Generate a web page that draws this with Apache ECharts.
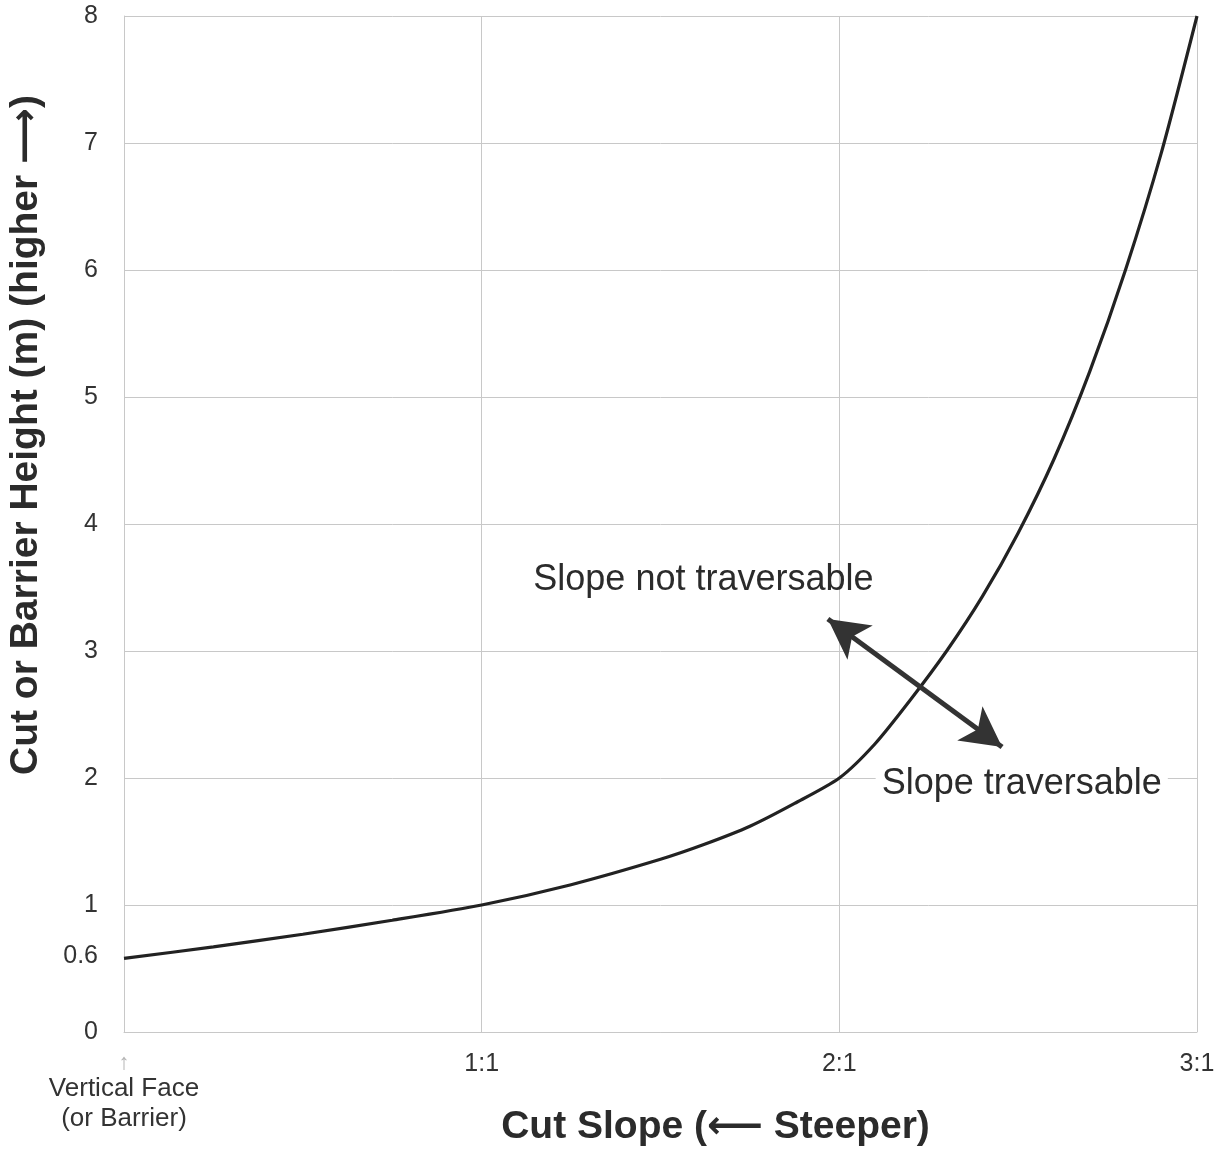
<!DOCTYPE html>
<html>
<head>
<meta charset="utf-8">
<script src="https://cdn.jsdelivr.net/npm/echarts@6/dist/echarts.min.js"></script>
<style>
html,body{margin:0;padding:0;background:#fff;}
#chart{width:1231px;height:1149px;}
</style>
</head>
<body>
<div id="chart"></div>
<script>
// Data
const slopeRatio = [0, 0.25, 0.5, 0.75, 1, 1.25, 1.5, 1.625, 1.75, 1.875, 2, 2.1, 2.2, 2.3, 2.4, 2.5, 2.6, 2.7, 2.8, 2.9, 3];
const barrierHeight = [0.58, 0.67, 0.77, 0.88, 1.0, 1.16, 1.36, 1.48, 1.62, 1.8, 2.0, 2.27, 2.62, 3.0, 3.43, 3.93, 4.51, 5.2, 6.0, 6.92, 8.0];
const xTickValues = [0, 1, 2, 3];
const xTickLabels = ['Vertical Face\n(or Barrier)', '1:1', '2:1', '3:1'];
const yTickValues = [0, 0.6, 1, 2, 3, 4, 5, 6, 7, 8];
const annotationTexts = ['Slope not traversable', 'Slope traversable'];
const annotationPos = [[1.62, 3.56], [2.51, 1.95]];
const arrowEnds = [[1.968, 3.252], [2.455, 2.244]];
const xAxisTitle = 'Cut Slope (\u27F5 Steeper)';
const yAxisTitle = 'Cut or Barrier Height (m) (higher \u27F6)';

const chart = echarts.init(document.getElementById('chart'), null, {renderer: 'canvas'});
const font = '"Liberation Sans", Arial, "DejaVu Sans", sans-serif';
const gridColor = '#c8c8c8';

const option = {
  animation: false,
  backgroundColor: '#ffffff',
  textStyle: {fontFamily: font},
  grid: {left: 124, right: 34, top: 16, bottom: 117, containLabel: false, outerBoundsMode: 'none'},
  xAxis: {
    type: 'value', min: 0, max: 3, interval: 1,
    name: xAxisTitle, nameLocation: 'middle', nameGap: 76, nameMoveOverlap: false,
    nameTextStyle: {fontSize: 39, fontWeight: 'bold', color: '#2b2b2b', fontFamily: font, padding: [0, 0, 0, 110]},
    axisLine: {show: true, lineStyle: {color: gridColor, width: 1}},
    axisTick: {show: false},
    splitLine: {show: true, lineStyle: {color: gridColor, width: 1}},
    axisLabel: {
      margin: 20, fontSize: 25, color: '#333', fontFamily: font,
      formatter: function (v) {
        const i = xTickValues.indexOf(v);
        if (i === 0) {
          const parts = xTickLabels[0].split('\n');
          return '{arr|\u2191}\n{vf|' + parts[0] + '}\n{vf|' + parts[1] + '}';
        }
        return i >= 0 ? xTickLabels[i] : '';
      },
      rich: {
        arr: {fontSize: 22, color: '#b5b5b5', lineHeight: 22, fontFamily: font},
        vf: {fontSize: 26, color: '#333', lineHeight: 30, fontFamily: font}
      }
    }
  },
  yAxis: {
    type: 'value', min: 0, max: 8, interval: 1,
    name: yAxisTitle, nameLocation: 'middle', nameGap: 78, nameRotate: 90, nameMoveOverlap: false,
    nameTextStyle: {fontSize: 39, fontWeight: 'bold', color: '#2b2b2b', fontFamily: font, padding: [0, 0, 0, 178]},
    axisLine: {show: true, lineStyle: {color: gridColor, width: 1}},
    axisTick: {show: false},
    splitLine: {show: true, lineStyle: {color: gridColor, width: 1}},
    axisLabel: {
      customValues: yTickValues,
      margin: 26, fontSize: 25, color: '#333', fontFamily: font,
      formatter: function (v) { return String(v); }
    }
  },
  series: [
    {
      type: 'line',
      data: slopeRatio.map((x, i) => [x, barrierHeight[i]]),
      showSymbol: false,
      smooth: 0.25,
      lineStyle: {color: '#222', width: 3.2},
      silent: true,
      z: 3,
      markLine: {
        silent: true,
        symbol: ['arrow', 'arrow'],
        symbolSize: [32, 40],
        label: {show: false},
        lineStyle: {color: '#333', width: 5, type: 'solid', opacity: 1},
        emphasis: {disabled: true},
        data: [[{coord: arrowEnds[0]}, {coord: arrowEnds[1]}]]
      }
    },
    {
      type: 'scatter',
      symbolSize: 0,
      silent: true,
      z: 5,
      itemStyle: {opacity: 1},
      data: annotationTexts.map((t, i) => ({
        name: t,
        value: annotationPos[i],
        label: i === 1 ? {backgroundColor: '#ffffff', padding: [2, 6]} : {}
      })),
      label: {
        show: true, position: 'inside', formatter: '{b}', opacity: 1,
        fontSize: 36, color: '#2b2b2b', fontFamily: font
      }
    }
  ]
};
chart.setOption(option);
</script>
</body>
</html>
